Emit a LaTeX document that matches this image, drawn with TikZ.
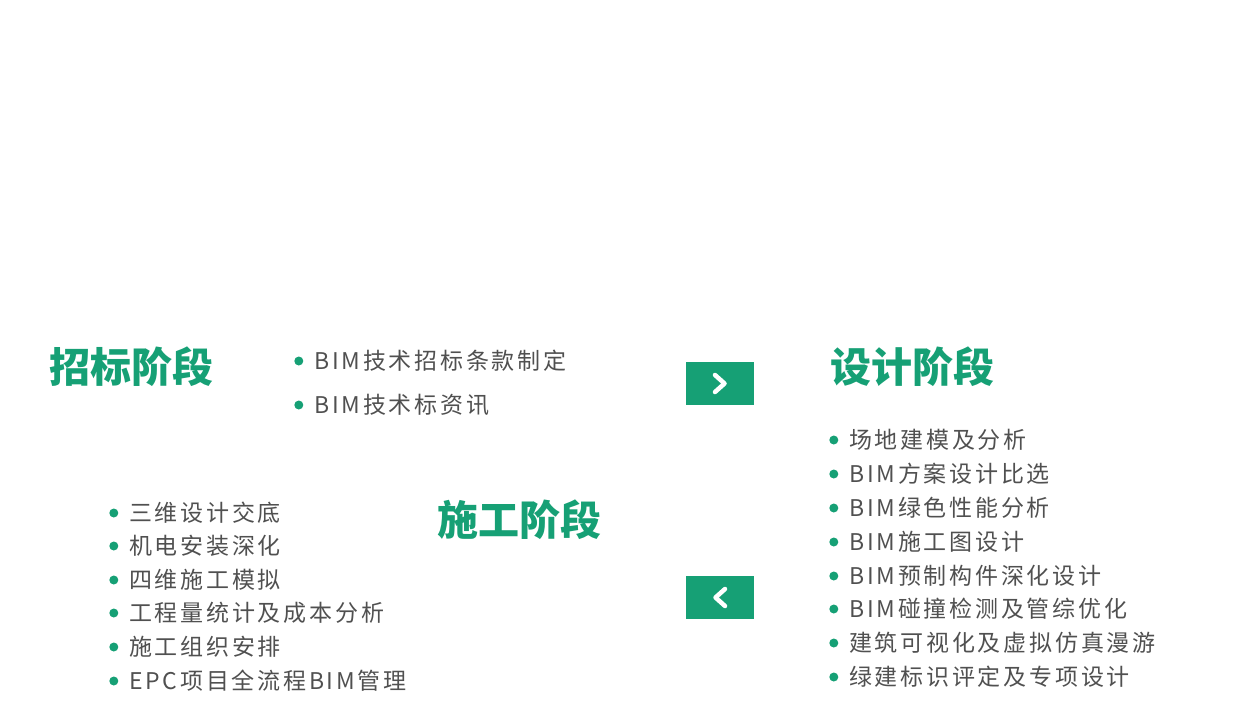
\documentclass[tikz,border=0pt]{standalone}
\usepackage{fontspec}
\newfontfamily\cjk{Noto Sans CJK SC}
\newfontfamily\cjkitem{Noto Sans CJK SC}[LetterSpace=12]
\usetikzlibrary{positioning}
\definecolor{mygreen}{HTML}{16A075}
\definecolor{mygray}{HTML}{505050}
\tikzset{
    mytitle/.style = {anchor=west, inner sep=0, text=mygreen, font=\cjk\bfseries\fontsize{41pt}{45pt}\selectfont},
    mydot/.style = {circle, fill=mygreen, inner sep=0, minimum size=9pt, xshift=-10.5pt},
    myitem/.style = {anchor=west, inner sep=0, text=mygray, font=\cjkitem\fontsize{23pt}{27pt}\selectfont, label={[mydot]left:{}}},
    mybox/.style = {rectangle, fill=mygreen, minimum width=68pt, minimum height=43pt, inner sep=0},
    edgechev/.style = {-, line width=4.5pt, white, line cap=round, line join=round}
}
\begin{document}
\begin{tikzpicture}[x=1pt,y=-1pt]
\useasboundingbox (0,0) rectangle (1258,726);

\node[mytitle] at (49, 367) (zb) {招标阶段};
\node[mytitle] at (830, 367) (sj) {设计阶段};
\node[mytitle] at (437, 520) (sg) {施工阶段};

\node[myitem] at (314, 361) (zb1) {BIM技术招标条款制定};
\node[myitem] at (314, 405) (zb2) {BIM技术标资讯};

\node[myitem] at (849, 440) (sj1) {场地建模及分析};
\node[myitem] at (849, 474) (sj2) {BIM方案设计比选};
\node[myitem] at (849, 508) (sj3) {BIM绿色性能分析};
\node[myitem] at (849, 542) (sj4) {BIM施工图设计};
\node[myitem] at (849, 576) (sj5) {BIM预制构件深化设计};
\node[myitem] at (849, 609) (sj6) {BIM碰撞检测及管综优化};
\node[myitem] at (849, 643) (sj7) {建筑可视化及虚拟仿真漫游};
\node[myitem] at (849, 677) (sj8) {绿建标识评定及专项设计};

\node[myitem] at (129, 513) (sg1) {三维设计交底};
\node[myitem] at (129, 546) (sg2) {机电安装深化};
\node[myitem] at (129, 580) (sg3) {四维施工模拟};
\node[myitem] at (129, 613) (sg4) {工程量统计及成本分析};
\node[myitem] at (129, 647) (sg5) {施工组织安排};
\node[myitem] at (129, 681) (sg6) {EPC项目全流程BIM管理};

\node[mybox] at (720, 383.5) (next) {};
\node[mybox] at (720, 597.5) (back) {};

\draw[edgechev] ([shift={(-5,-8.5)}]next.center) -- ([shift={(4.5,0)}]next.center) -- ([shift={(-5,8.5)}]next.center); % forward
\draw[edgechev] ([shift={(5,-8.5)}]back.center) -- ([shift={(-4.5,0)}]back.center) -- ([shift={(5,8.5)}]back.center); % back

\end{tikzpicture}
\end{document}
